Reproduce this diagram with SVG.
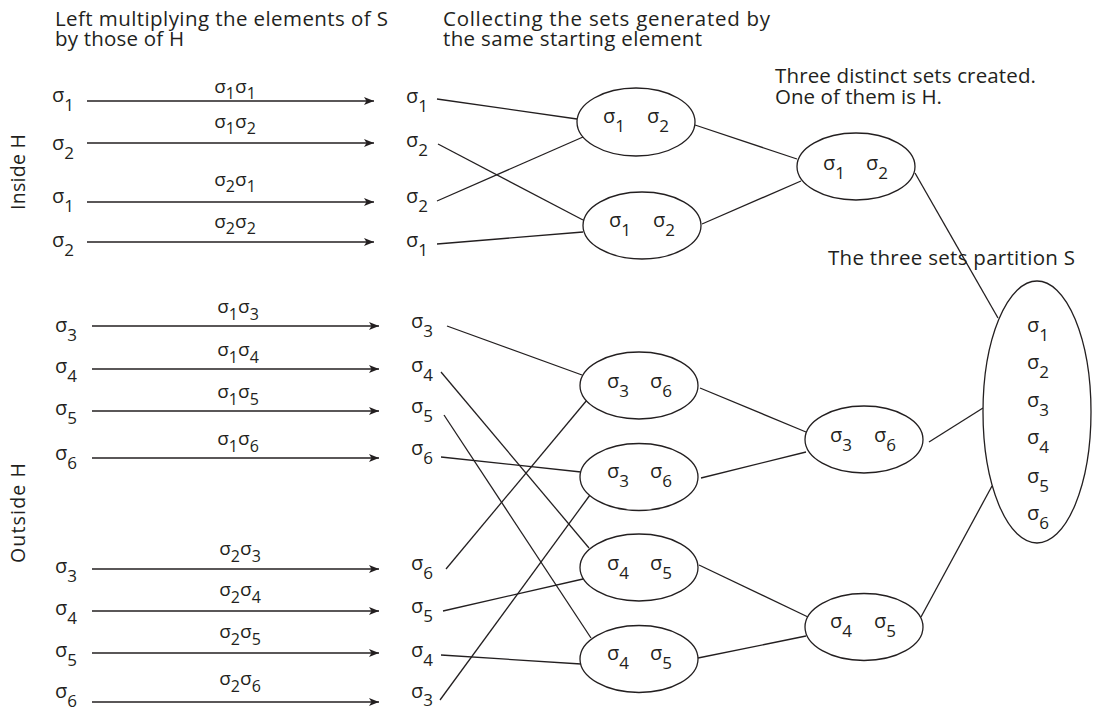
<svg xmlns="http://www.w3.org/2000/svg" width="1093" height="711" viewBox="0 0 1093 711">
<defs>
<marker id="ah" markerWidth="11" markerHeight="9" refX="10" refY="4.5" orient="auto" markerUnits="userSpaceOnUse"><path d="M0,0.5 L10,4.5 L0,8.5 L2.5,4.5 z" fill="#231f20"/></marker>
</defs>
<style>
text{font-family:"Open Sans","Liberation Sans",sans-serif;fill:#231f20}
.t{font-size:20.5px}
.r{font-size:19.5px}
.s{font-size:20px}
.s tspan{font-size:17px}
.a{font-size:19px;text-anchor:middle}
.a tspan.d{font-size:16px}
.e{fill:#fff;stroke:#231f20;stroke-width:1.3}
.c line{stroke:#231f20;stroke-width:1.3}
.ar{stroke:#231f20;stroke-width:1.3;marker-end:url(#ah)}
</style>
<rect width="1093" height="711" fill="#fff"/>

<g id="titles">
<text class="t" x="55" y="26" textLength="333" lengthAdjust="spacing">Left multiplying the elements of S</text>
<text class="t" x="55" y="46" textLength="129" lengthAdjust="spacing">by those of H</text>
<text class="t" x="443" y="26" textLength="327" lengthAdjust="spacing">Collecting the sets generated by</text>
<text class="t" x="443" y="46" textLength="259" lengthAdjust="spacing">the same starting element</text>
<text class="t" x="775" y="83" textLength="261" lengthAdjust="spacing">Three distinct sets created.</text>
<text class="t" x="775" y="104" textLength="167" lengthAdjust="spacing">One of them is H.</text>
<text class="t" x="828" y="265" textLength="247" lengthAdjust="spacing">The three sets partition S</text>
<text class="r" transform="translate(25,172) rotate(-90)" text-anchor="middle" textLength="76" lengthAdjust="spacing">Inside H</text>
<text class="r" transform="translate(25,513) rotate(-90)" text-anchor="middle" textLength="100" lengthAdjust="spacing">Outside H</text>
</g>

<g id="left-column">
<text class="s" x="52" y="102">σ<tspan dy="9">1</tspan></text>
<text class="s" x="52" y="150">σ<tspan dy="9">2</tspan></text>
<text class="s" x="52" y="203">σ<tspan dy="9">1</tspan></text>
<text class="s" x="52" y="247">σ<tspan dy="9">2</tspan></text>
<text class="s" x="55" y="332">σ<tspan dy="9">3</tspan></text>
<text class="s" x="55" y="373">σ<tspan dy="9">4</tspan></text>
<text class="s" x="55" y="415">σ<tspan dy="9">5</tspan></text>
<text class="s" x="55" y="460">σ<tspan dy="9">6</tspan></text>
<text class="s" x="55" y="573">σ<tspan dy="9">3</tspan></text>
<text class="s" x="55" y="615">σ<tspan dy="9">4</tspan></text>
<text class="s" x="55" y="657">σ<tspan dy="9">5</tspan></text>
<text class="s" x="55" y="698">σ<tspan dy="9">6</tspan></text>
</g>

<g id="products">
<line class="ar" x1="87" y1="101" x2="374" y2="101"/>
<line class="ar" x1="87" y1="143" x2="374" y2="143"/>
<line class="ar" x1="87" y1="202" x2="374" y2="202"/>
<line class="ar" x1="87" y1="242" x2="374" y2="242"/>
<line class="ar" x1="92" y1="326" x2="379" y2="326"/>
<line class="ar" x1="92" y1="369" x2="379" y2="369"/>
<line class="ar" x1="92" y1="411" x2="379" y2="411"/>
<line class="ar" x1="92" y1="458" x2="379" y2="458"/>
<line class="ar" x1="92" y1="569" x2="379" y2="569"/>
<line class="ar" x1="92" y1="611" x2="379" y2="611"/>
<line class="ar" x1="92" y1="653" x2="379" y2="653"/>
<line class="ar" x1="92" y1="702" x2="379" y2="702"/>
<text class="a" x="235" y="93">σ<tspan class="d" dy="6">1</tspan><tspan dy="-6">σ</tspan><tspan class="d" dy="6">1</tspan></text>
<text class="a" x="235" y="128">σ<tspan class="d" dy="6">1</tspan><tspan dy="-6">σ</tspan><tspan class="d" dy="6">2</tspan></text>
<text class="a" x="235" y="186">σ<tspan class="d" dy="6">2</tspan><tspan dy="-6">σ</tspan><tspan class="d" dy="6">1</tspan></text>
<text class="a" x="235" y="228">σ<tspan class="d" dy="6">2</tspan><tspan dy="-6">σ</tspan><tspan class="d" dy="6">2</tspan></text>
<text class="a" x="238" y="313">σ<tspan class="d" dy="7">1</tspan><tspan dy="-7">σ</tspan><tspan class="d" dy="7">3</tspan></text>
<text class="a" x="238" y="356">σ<tspan class="d" dy="7">1</tspan><tspan dy="-7">σ</tspan><tspan class="d" dy="7">4</tspan></text>
<text class="a" x="238" y="398">σ<tspan class="d" dy="7">1</tspan><tspan dy="-7">σ</tspan><tspan class="d" dy="7">5</tspan></text>
<text class="a" x="238" y="445">σ<tspan class="d" dy="7">1</tspan><tspan dy="-7">σ</tspan><tspan class="d" dy="7">6</tspan></text>
<text class="a" x="240" y="555">σ<tspan class="d" dy="7">2</tspan><tspan dy="-7">σ</tspan><tspan class="d" dy="7">3</tspan></text>
<text class="a" x="240" y="596">σ<tspan class="d" dy="7">2</tspan><tspan dy="-7">σ</tspan><tspan class="d" dy="7">4</tspan></text>
<text class="a" x="240" y="638">σ<tspan class="d" dy="7">2</tspan><tspan dy="-7">σ</tspan><tspan class="d" dy="7">5</tspan></text>
<text class="a" x="240" y="685">σ<tspan class="d" dy="7">2</tspan><tspan dy="-7">σ</tspan><tspan class="d" dy="7">6</tspan></text>
</g>

<g id="middle-column">
<text class="s" x="406" y="103">σ<tspan dy="9">1</tspan></text>
<text class="s" x="406" y="147">σ<tspan dy="9">2</tspan></text>
<text class="s" x="406" y="203">σ<tspan dy="9">2</tspan></text>
<text class="s" x="406" y="247">σ<tspan dy="9">1</tspan></text>
<text class="s" x="411" y="328">σ<tspan dy="9">3</tspan></text>
<text class="s" x="411" y="372">σ<tspan dy="9">4</tspan></text>
<text class="s" x="411" y="413">σ<tspan dy="9">5</tspan></text>
<text class="s" x="411" y="455">σ<tspan dy="9">6</tspan></text>
<text class="s" x="411" y="570">σ<tspan dy="9">6</tspan></text>
<text class="s" x="411" y="613">σ<tspan dy="9">5</tspan></text>
<text class="s" x="411" y="657">σ<tspan dy="9">4</tspan></text>
<text class="s" x="411" y="698">σ<tspan dy="8">3</tspan></text>
</g>

<g id="connectors" class="c">
<line x1="437" y1="99" x2="577" y2="119"/>
<line x1="438" y1="144" x2="583" y2="220"/>
<line x1="437" y1="201" x2="583" y2="137"/>
<line x1="437" y1="244" x2="583" y2="232"/>
<line x1="695" y1="125" x2="797" y2="159"/>
<line x1="702" y1="224" x2="801" y2="181"/>
<line x1="915" y1="173" x2="998" y2="318"/>
<line x1="447" y1="326" x2="582" y2="375"/>
<line x1="441" y1="372" x2="589" y2="548"/>
<line x1="444" y1="415" x2="591" y2="638"/>
<line x1="441" y1="457" x2="581" y2="472"/>
<line x1="446" y1="569" x2="587" y2="400"/>
<line x1="443" y1="611" x2="583" y2="579"/>
<line x1="441" y1="655" x2="581" y2="664"/>
<line x1="440" y1="700" x2="590" y2="495"/>
<line x1="700" y1="388" x2="806" y2="432"/>
<line x1="701" y1="478" x2="806" y2="452"/>
<line x1="699" y1="565" x2="808" y2="617"/>
<line x1="698" y1="658" x2="806" y2="636"/>
<line x1="929" y1="442" x2="983" y2="408"/>
<line x1="921" y1="617" x2="992" y2="486"/>
</g>

<g id="set-h-a"><ellipse class="e" cx="636" cy="122" rx="59" ry="34"/>
<text class="s" x="603" y="123">σ<tspan dy="9">1</tspan></text><text class="s" x="647" y="123">σ<tspan dy="9">2</tspan></text></g>
<g id="set-h-b"><ellipse class="e" cx="642" cy="225.5" rx="59" ry="33.5"/>
<text class="s" x="609" y="227">σ<tspan dy="9">1</tspan></text><text class="s" x="653" y="227">σ<tspan dy="9">2</tspan></text></g>
<g id="set-h"><ellipse class="e" cx="856" cy="166.5" rx="59" ry="33.5"/>
<text class="s" x="823" y="170">σ<tspan dy="9">1</tspan></text><text class="s" x="866" y="170">σ<tspan dy="9">2</tspan></text></g>

<g id="set-36-a"><ellipse class="e" cx="639" cy="385.5" rx="59" ry="33.5"/>
<text class="s" x="607" y="388">σ<tspan dy="9">3</tspan></text><text class="s" x="650" y="388">σ<tspan dy="9">6</tspan></text></g>
<g id="set-36-b"><ellipse class="e" cx="639" cy="477" rx="59" ry="33.5"/>
<text class="s" x="607" y="478">σ<tspan dy="9">3</tspan></text><text class="s" x="650" y="478">σ<tspan dy="9">6</tspan></text></g>
<g id="set-45-a"><ellipse class="e" cx="639" cy="567.5" rx="59" ry="33.5"/>
<text class="s" x="607" y="570">σ<tspan dy="9">4</tspan></text><text class="s" x="650" y="570">σ<tspan dy="9">5</tspan></text></g>
<g id="set-45-b"><ellipse class="e" cx="639" cy="659" rx="59" ry="33.5"/>
<text class="s" x="607" y="660">σ<tspan dy="9">4</tspan></text><text class="s" x="650" y="660">σ<tspan dy="9">5</tspan></text></g>
<g id="set-36"><ellipse class="e" cx="864" cy="439.5" rx="59" ry="33.5"/>
<text class="s" x="830" y="442">σ<tspan dy="9">3</tspan></text><text class="s" x="874" y="442">σ<tspan dy="9">6</tspan></text></g>
<g id="set-45"><ellipse class="e" cx="864" cy="627" rx="59" ry="33.5"/>
<text class="s" x="830" y="628">σ<tspan dy="9">4</tspan></text><text class="s" x="874" y="628">σ<tspan dy="9">5</tspan></text></g>

<g id="set-s"><ellipse class="e" cx="1037" cy="412" rx="54" ry="131"/>
<text class="s" x="1027" y="332">σ<tspan dy="9">1</tspan></text>
<text class="s" x="1027" y="369">σ<tspan dy="9">2</tspan></text>
<text class="s" x="1027" y="407">σ<tspan dy="9">3</tspan></text>
<text class="s" x="1027" y="444">σ<tspan dy="9">4</tspan></text>
<text class="s" x="1027" y="483">σ<tspan dy="9">5</tspan></text>
<text class="s" x="1027" y="520">σ<tspan dy="9">6</tspan></text>
</g>
</svg>
